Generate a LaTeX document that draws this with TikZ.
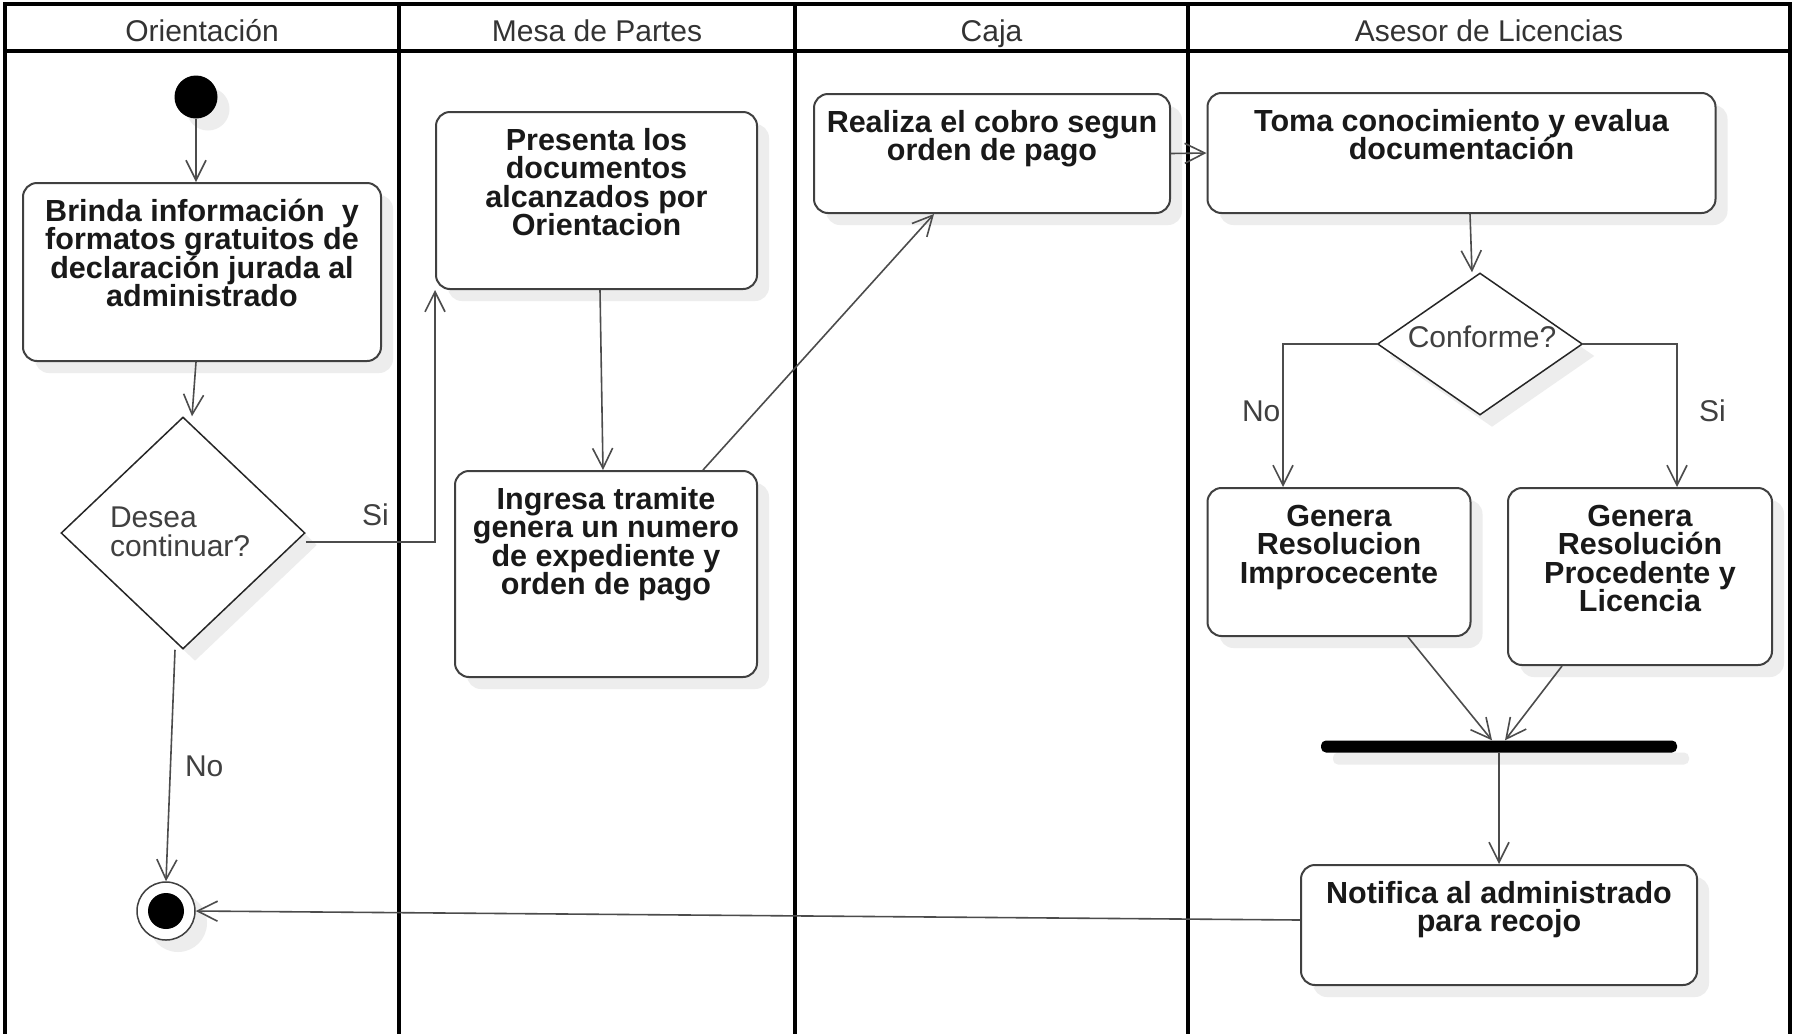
\documentclass[tikz,border=0pt]{standalone}
\usepackage{fontspec}
\setmainfont{Liberation Sans}
\usetikzlibrary{arrows.meta,shapes.geometric,shadows}

% Activity text: fixed-size box, lines centred and hung from the top edge
\newcommand{\acttext}[3]{\parbox[c][#2][t]{#1}{\centering\lineskiplimit=-100pt\rule{0pt}{38pt}#3}}

\begin{document}
\begin{tikzpicture}[x=1pt,y=-1pt,
  lanebar/.style={line width=4pt,black},
  lanehead/.style={anchor=base,font=\fontsize{30}{29}\selectfont,text=black!80},
  softshadow/.style={drop shadow={shadow xshift=12pt,shadow yshift=-12pt,fill=black!7,opacity=1}},
  actbox/.style={draw=black!75,line width=2pt,rounded corners=14pt,fill=white,inner sep=0pt,
    font=\fontsize{30.5}{28.5}\selectfont\bfseries,text=black!90,softshadow},
  decision/.style={diamond,draw=black!85,line width=1.5pt,fill=white,inner sep=0pt,softshadow},
  guard/.style={font=\fontsize{30}{29}\selectfont,text=black!75},
  flow/.style={draw=black!70,line width=1.6pt,-{Straight Barb[length=20pt,width=20pt]}},
  startdot/.style={circle,fill=black,inner sep=0pt,minimum size=43pt,softshadow},
  enddot/.style={circle,draw=black!75,line width=1.5pt,fill=white,inner sep=0pt,minimum size=58pt,softshadow},
  enddotcore/.style={circle,fill=black,inner sep=0pt,minimum size=36pt},
  forkbar/.style={rectangle,fill=black,rounded corners=5pt,inner sep=0pt,minimum width=356pt,minimum height=12pt,softshadow}
]
\useasboundingbox (0,0) rectangle (1793,1034);
\fill[white] (0,0) rectangle (1793,1034);

% swimlanes
\draw[lanebar] (5,4) -- (1790,4);
\draw[lanebar] (5,51) -- (1790,51);
\foreach \lx in {5,399,795,1188,1790}
  \draw[lanebar] (\lx,2) -- (\lx,1034);
\node[lanehead] (h1) at (202,41) {Orientación};
\node[lanehead] (h2) at (597,41) {Mesa de Partes};
\node[lanehead] (h3) at (991.5,41) {Caja};
\node[lanehead] (h4) at (1489,41) {Asesor de Licencias};

% Orientación
\node[startdot] (start) at (196,97) {};
\node[actbox] (brinda) at (202,272) {\acttext{358pt}{178pt}{Brinda información~ y\\formatos gratuitos de\\declaración jurada al\\administrado}};
\node[decision,minimum width=244pt,minimum height=232pt] (desea) at (183,533) {};
\node[guard,anchor=base west] (deseatxt) at (106.5,527) {\parbox[t]{200pt}{\raggedright\lineskiplimit=-100pt Desea\\continuar?}};
\node[enddot] (fin) at (166,911) {};
\node[enddotcore] (fincore) at (fin.center) {};

% Mesa de Partes
\node[actbox] (presenta) at (596.5,200.5) {\acttext{321pt}{177pt}{Presenta los\\documentos\\alcanzados por\\Orientacion}};
\node[actbox] (ingresa) at (606,574) {\acttext{302pt}{206pt}{Ingresa tramite\\genera un numero\\de expediente y\\orden de pago}};

% Caja
\node[actbox] (cobro) at (992,153.5) {\acttext{356pt}{119pt}{Realiza el cobro segun\\orden de pago}};

% Asesor de Licencias
\node[actbox] (toma) at (1461.5,153) {\acttext{508pt}{120pt}{Toma conocimiento y evalua\\documentación}};
\node[decision,minimum width=205pt,minimum height=142pt] (conforme) at (1480,344) {};
\node[guard,anchor=base] (conftxt) at (1482,347) {Conforme?};
\node[actbox] (improc) at (1339,562) {\acttext{263pt}{148pt}{Genera\\Resolucion\\Improcecente}};
\node[actbox] (proc) at (1640,576.5) {\acttext{264pt}{177pt}{Genera\\Resolución\\Procedente y\\Licencia}};
\node[forkbar] (join) at (1499,746.5) {};
\node[actbox] (notifica) at (1499,925) {\acttext{396pt}{120pt}{Notifica al administrado\\para recojo}};

% flows
\draw[flow] (start) -- (start |- brinda.north);
\draw[flow] (start |- brinda.south) -- ([xshift=9pt]desea.north);
\draw[flow] ([yshift=-9pt]desea.east) -| (presenta.south west);
\node[guard,anchor=base west] (lsi1) at (358.5,525) {Si};
\draw[flow] ([xshift=-8pt]desea.south) -- (fin.north);
\node[guard,anchor=base west] (lno1) at (181.5,776) {No};
\draw[flow] ([xshift=3.5pt]presenta.south) -- ([xshift=-3pt]ingresa.north);
\draw[flow] ([xshift=97pt]ingresa.north) -- ([xshift=-58pt]cobro.south);
\draw[flow] (cobro.east) -- (toma.west);
\draw[flow] ([xshift=8.5pt]toma.south) -- ([xshift=-8pt]conforme.north);
\draw[flow] (conforme.west) -| ([xshift=-56pt]improc.north);
\node[guard,anchor=base west] (lno2) at (1238.5,421) {No};
\draw[flow] (conforme.east) -| ([xshift=37pt]proc.north);
\node[guard,anchor=base west] (lsi2) at (1695.5,421) {Si};
\draw[flow] ([xshift=69pt]improc.south) -- ([xshift=-7pt]join.north);
\draw[flow] ([xshift=-78pt]proc.south) -- ([xshift=6pt]join.north);
\draw[flow] (join.south) -- (notifica.north);
\draw[flow] ([yshift=5pt]notifica.west) -- (fin.east);
\end{tikzpicture}
\end{document}
